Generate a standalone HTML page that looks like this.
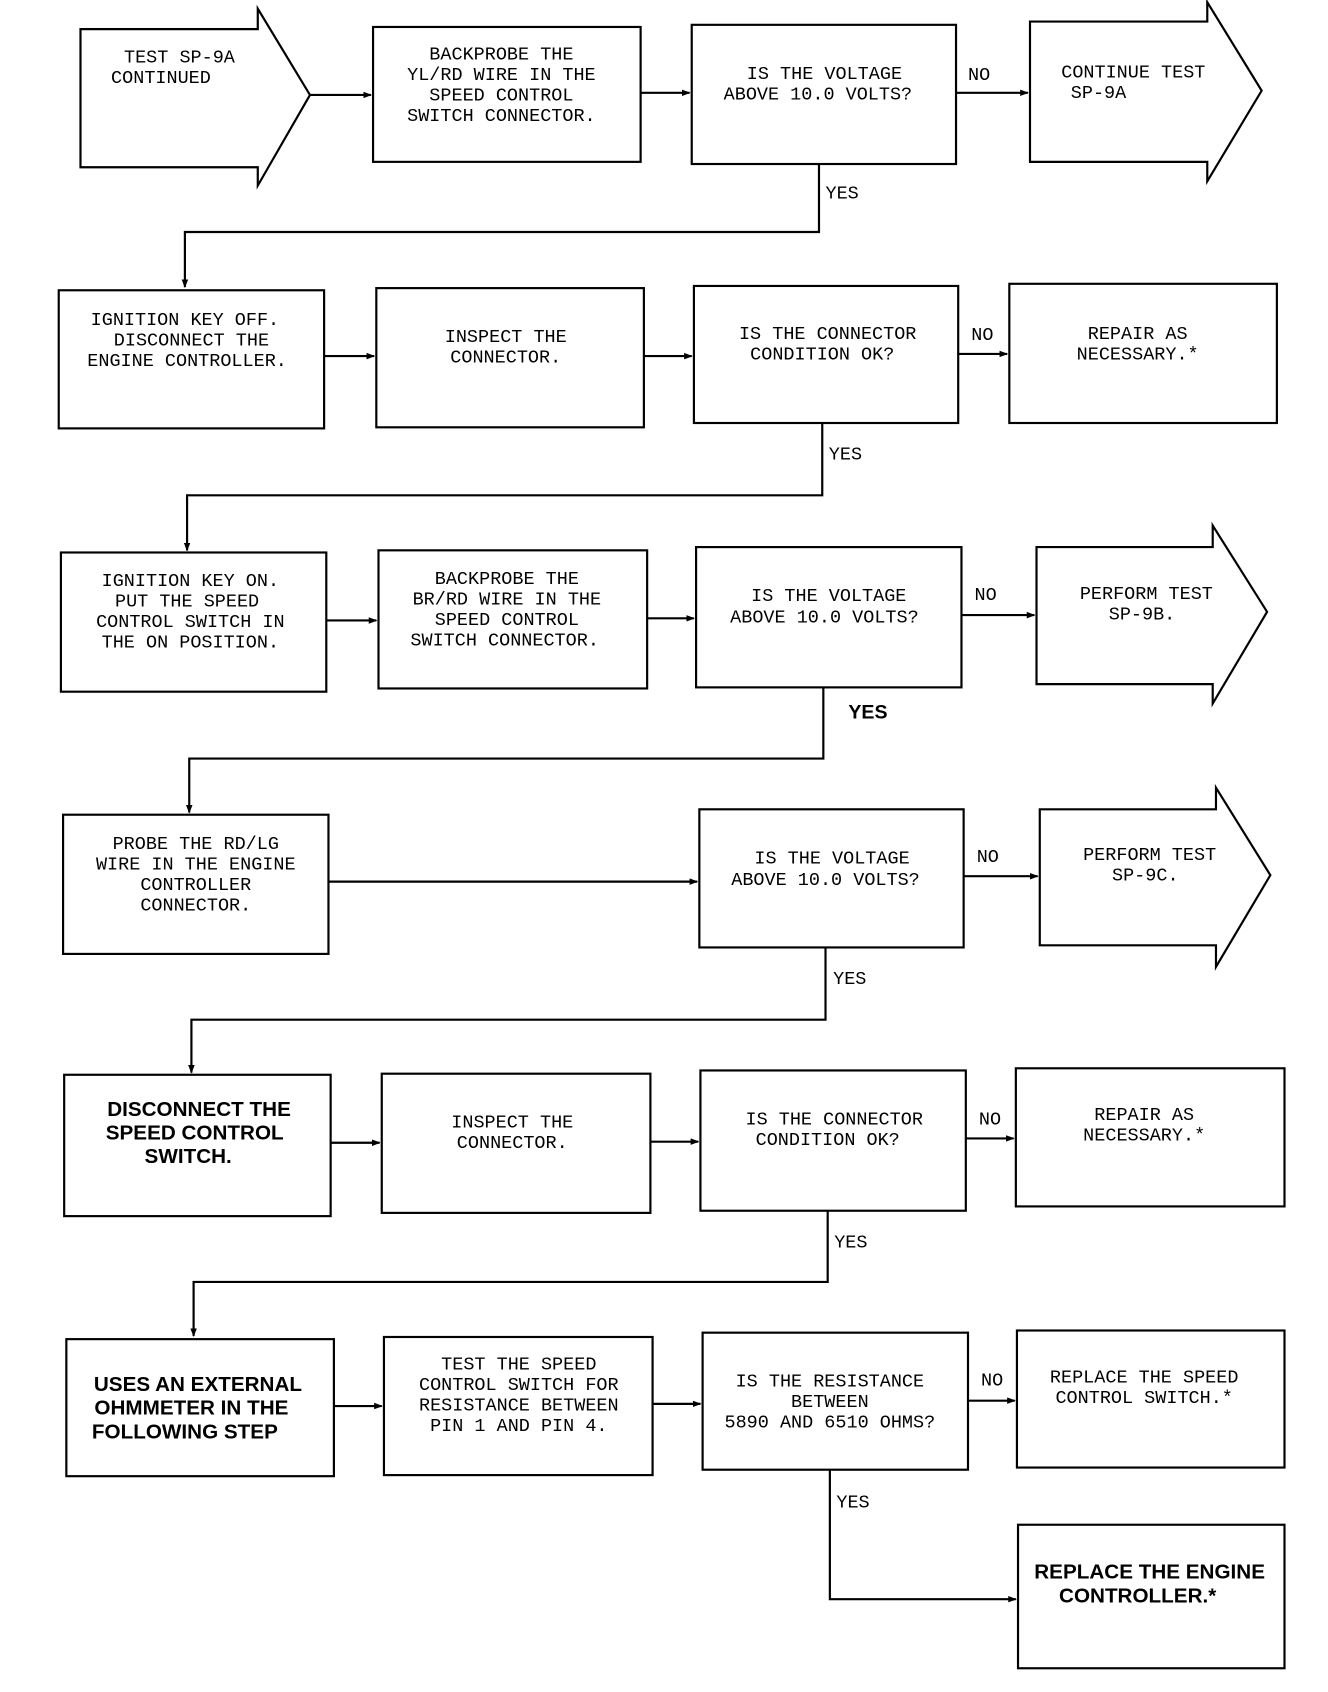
<!DOCTYPE html>
<html><head><meta charset="utf-8"><style>
html,body{margin:0;padding:0;background:#fff;}
svg{display:block;}
.t{font-family:"Liberation Mono",monospace;font-size:17px;fill:#000;}
.b{font-family:"Liberation Sans",sans-serif;font-weight:bold;font-size:19px;fill:#000;}
</style></head><body>
<svg width="1328" height="1692" viewBox="0 0 1221 1568" preserveAspectRatio="none" xmlns="http://www.w3.org/2000/svg">
<defs><marker id="a" markerWidth="8" markerHeight="8" refX="7" refY="4" orient="auto" markerUnits="userSpaceOnUse"><path d="M0,1 L8,4 L0,7z" fill="#000"/></marker></defs>
<g fill="none" stroke="#000" stroke-width="2">
<!-- row1 -->
<path d="M74,27 H237 V8 L285,88 L237,172 V155 H74 Z"/>
<rect x="343" y="25" width="246" height="125"/>
<rect x="636" y="23" width="243" height="129"/>
<path d="M947,20 H1110 V2 L1160,84 L1110,168 V150 H947 Z"/>
<path d="M285,88 H341" marker-end="url(#a)"/>
<path d="M589,86 H634" marker-end="url(#a)"/>
<path d="M879,86 H945" marker-end="url(#a)"/>
<path d="M753,152 V215 H170 V266" marker-end="url(#a)"/>
<!-- row2 -->
<rect x="54" y="269" width="244" height="128"/>
<rect x="346" y="267" width="246" height="129"/>
<rect x="638" y="265" width="243" height="127"/>
<rect x="928" y="263" width="246" height="129"/>
<path d="M298,330 H344" marker-end="url(#a)"/>
<path d="M592,330 H636" marker-end="url(#a)"/>
<path d="M881,328 H926" marker-end="url(#a)"/>
<path d="M756,392 V459 H172 V510" marker-end="url(#a)"/>
<!-- row3 -->
<rect x="56" y="512" width="244" height="129"/>
<rect x="348" y="510" width="247" height="128"/>
<rect x="640" y="507" width="244" height="130"/>
<path d="M953,507 H1115 V487 L1165,567 L1115,652 V634 H953 Z"/>
<path d="M300,575 H346" marker-end="url(#a)"/>
<path d="M595,573 H638" marker-end="url(#a)"/>
<path d="M884,570 H951" marker-end="url(#a)"/>
<path d="M757,637 V703 H174 V753" marker-end="url(#a)"/>
<!-- row4 -->
<rect x="58" y="755" width="244" height="129"/>
<rect x="643" y="750" width="243" height="128"/>
<path d="M956,750 H1118 V730 L1168,811 L1118,896 V876 H956 Z"/>
<path d="M302,817 H641" marker-end="url(#a)"/>
<path d="M886,812 H954" marker-end="url(#a)"/>
<path d="M759,878 V945 H176 V994" marker-end="url(#a)"/>
<!-- row5 -->
<rect x="59" y="996" width="245" height="131"/>
<rect x="351" y="995" width="247" height="129"/>
<rect x="644" y="992" width="244" height="130"/>
<rect x="934" y="990" width="247" height="128"/>
<path d="M304,1059 H349" marker-end="url(#a)"/>
<path d="M598,1058 H642" marker-end="url(#a)"/>
<path d="M888,1055 H932" marker-end="url(#a)"/>
<path d="M761,1122 V1188 H178 V1238" marker-end="url(#a)"/>
<!-- row6 -->
<rect x="61" y="1241" width="246" height="127"/>
<rect x="353" y="1239" width="247" height="128"/>
<rect x="646" y="1235" width="244" height="127"/>
<rect x="935" y="1233" width="246" height="127"/>
<path d="M307,1303 H351" marker-end="url(#a)"/>
<path d="M600,1301 H644" marker-end="url(#a)"/>
<path d="M890,1298 H933" marker-end="url(#a)"/>
<path d="M763,1362 V1482 H934" marker-end="url(#a)"/>
<rect x="936" y="1413" width="245" height="133"/>
</g>
<g class="t" text-anchor="middle">
<text x="165" y="58">TEST SP-9A</text><text x="148" y="77" text-anchor="middle">CONTINUED</text>
<text x="461" y="55">BACKPROBE THE</text><text x="461" y="74">YL/RD WIRE IN THE</text><text x="461" y="93">SPEED CONTROL</text><text x="461" y="112">SWITCH CONNECTOR.</text>
<text x="758" y="73">IS THE VOLTAGE</text><text x="752" y="92">ABOVE 10.0 VOLTS?</text>
<text x="1042" y="72">CONTINUE TEST</text><text x="1010" y="91">SP-9A</text>
<text x="170" y="301">IGNITION KEY OFF.</text><text x="176" y="320">DISCONNECT THE</text><text x="172" y="339">ENGINE CONTROLLER.</text>
<text x="465" y="317">INSPECT THE</text><text x="465" y="336">CONNECTOR.</text>
<text x="761" y="314">IS THE CONNECTOR</text><text x="756" y="333">CONDITION OK?</text>
<text x="1046" y="314">REPAIR AS</text><text x="1046" y="333">NECESSARY.*</text>
<text x="175" y="543">IGNITION KEY ON.</text><text x="172" y="562">PUT THE SPEED</text><text x="175" y="581">CONTROL SWITCH IN</text><text x="175" y="600">THE ON POSITION.</text>
<text x="466" y="541">BACKPROBE THE</text><text x="466" y="560">BR/RD WIRE IN THE</text><text x="466" y="579">SPEED CONTROL</text><text x="464" y="598">SWITCH CONNECTOR.</text>
<text x="762" y="557">IS THE VOLTAGE</text><text x="758" y="577">ABOVE 10.0 VOLTS?</text>
<text x="1054" y="555">PERFORM TEST</text><text x="1050" y="574">SP-9B.</text>
<text x="180" y="787">PROBE THE RD/LG</text><text x="180" y="806">WIRE IN THE ENGINE</text><text x="180" y="825">CONTROLLER</text><text x="180" y="844">CONNECTOR.</text>
<text x="765" y="800">IS THE VOLTAGE</text><text x="759" y="820">ABOVE 10.0 VOLTS?</text>
<text x="1057" y="797">PERFORM TEST</text><text x="1053" y="816">SP-9C.</text>
<text x="471" y="1045">INSPECT THE</text><text x="471" y="1064">CONNECTOR.</text>
<text x="767" y="1042">IS THE CONNECTOR</text><text x="761" y="1061">CONDITION OK?</text>
<text x="1052" y="1038">REPAIR AS</text><text x="1052" y="1057">NECESSARY.*</text>
<text x="477" y="1269">TEST THE SPEED</text><text x="477" y="1288">CONTROL SWITCH FOR</text><text x="477" y="1307">RESISTANCE BETWEEN</text><text x="477" y="1326">PIN 1 AND PIN 4.</text>
<text x="763" y="1285">IS THE RESISTANCE</text><text x="763" y="1304">BETWEEN</text><text x="763" y="1323">5890 AND 6510 OHMS?</text>
<text x="1052" y="1281">REPLACE THE SPEED</text><text x="1052" y="1300">CONTROL SWITCH.*</text>
</g>
<g class="t">
<text x="890" y="74">NO</text><text x="759" y="184">YES</text>
<text x="893" y="315">NO</text><text x="762" y="426">YES</text>
<text x="896" y="556">NO</text>
<text x="898" y="799">NO</text><text x="766" y="912">YES</text>
<text x="900" y="1042">NO</text><text x="767" y="1156">YES</text>
<text x="902" y="1284">NO</text><text x="769" y="1397">YES</text>
</g>
<g class="b" text-anchor="middle">
<text x="798" y="666" font-size="18">YES</text>
<text x="183" y="1034">DISCONNECT THE</text><text x="179" y="1056">SPEED CONTROL</text><text x="173" y="1078">SWITCH.</text>
<text x="182" y="1289">USES AN EXTERNAL</text><text x="176" y="1311">OHMMETER IN THE</text><text x="170" y="1333">FOLLOWING STEP</text>
<text x="1057" y="1463">REPLACE THE ENGINE</text><text x="1046" y="1485">CONTROLLER.*</text>
</g>
</svg>
</body></html>
